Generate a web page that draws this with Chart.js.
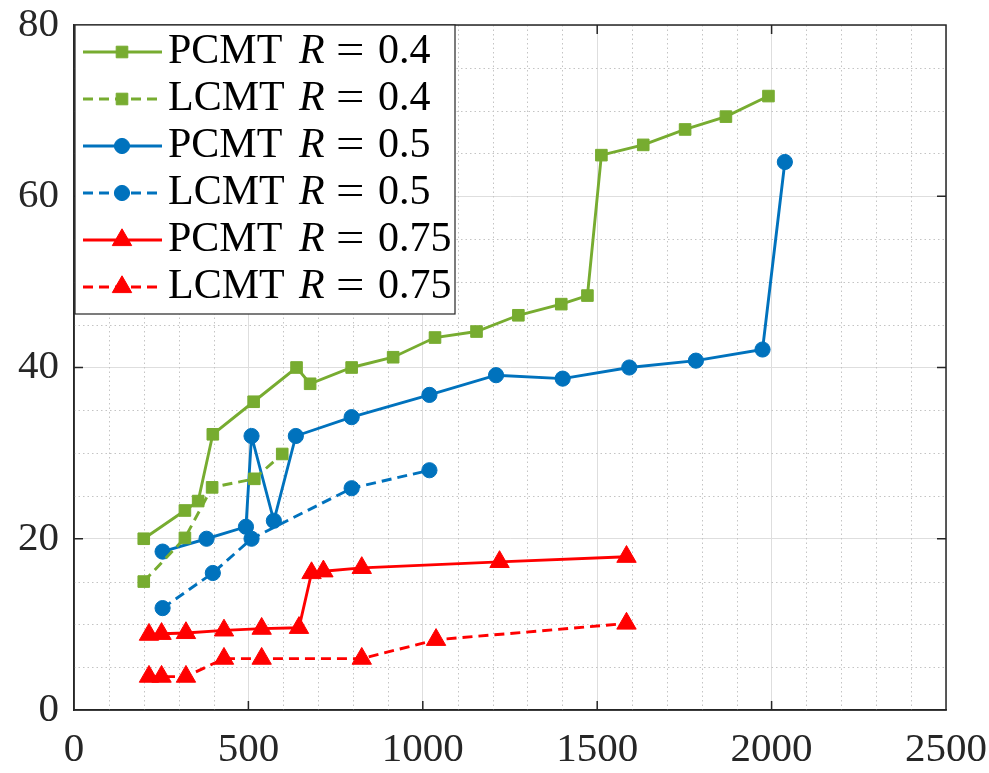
<!DOCTYPE html>
<html>
<head>
<meta charset="utf-8">
<title>PCMT / LCMT</title>
<script src="https://cdn.jsdelivr.net/npm/chart.js@4.4.0/dist/chart.umd.min.js"></script>
<style>
  html, body { margin: 0; padding: 0; background: #ffffff; }
  #wrap { width: 989px; height: 773px; position: relative; }
</style>
</head>
<body>
<div id="wrap"><canvas id="chart"></canvas></div>
<script>
// values
var pcmt04X = [200, 318, 356, 398, 515, 638, 677, 796, 915, 1035, 1154, 1274, 1397, 1472, 1512, 1632, 1752, 1869, 1991];
var pcmt04Y = [20.0, 23.3, 24.4, 32.2, 36.0, 40.0, 38.1, 40.0, 41.2, 43.5, 44.2, 46.1, 47.4, 48.4, 64.8, 66.0, 67.8, 69.3, 71.7];
var lcmt04X = [200, 318, 396, 517, 597];
var lcmt04Y = [15.0, 20.1, 26.0, 27.0, 29.9];

var pcmt05X = [254, 380, 493, 509, 573, 636, 796, 1019, 1210, 1401, 1592, 1783, 1974, 2038];
var pcmt05Y = [18.5, 20.0, 21.4, 32.0, 22.1, 32.0, 34.2, 36.8, 39.1, 38.7, 40.0, 40.8, 42.1, 64.0];
var lcmt05X = [254, 398, 509, 796, 1019];
var lcmt05Y = [11.9, 16.0, 20.0, 25.9, 28.0];

var pcmt075X = [215, 251, 321, 430, 538, 645, 681, 715, 825, 1220, 1584];
var pcmt075Y = [8.8, 8.9, 9.0, 9.3, 9.5, 9.6, 16.0, 16.2, 16.6, 17.3, 17.9];
var lcmt075X = [215, 251, 321, 430, 538, 825, 1038, 1584];
var lcmt075Y = [3.9, 3.9, 3.9, 6.0, 6.0, 6.0, 8.2, 10.1];

var xTicks = [0, 500, 1000, 1500, 2000, 2500];
var yTicks = [0, 20, 40, 60, 80];
var xMinorStep = 100;
var yMinorStep = 5;

var seriesNames = ['PCMT', 'LCMT', 'PCMT', 'LCMT', 'PCMT', 'LCMT'];
var seriesR = ['0.4', '0.4', '0.5', '0.5', '0.75', '0.75'];

var GREEN = '#77ac30';
var BLUE = '#0072bd';
var RED = '#ff0000';
var AXIS = '#262626';
var FONT = '"Liberation Serif", "Times New Roman", serif';

function pts(xs, ys) {
  var out = [];
  for (var i = 0; i < xs.length; i++) out.push({ x: xs[i], y: ys[i] });
  return out;
}

function series(i, xs, ys, color, dashed, style, r) {
  return {
    label: seriesNames[i] + ' R = ' + seriesR[i],
    data: pts(xs, ys),
    borderColor: color,
    backgroundColor: color,
    borderWidth: 2.9,
    borderDash: dashed ? [10, 6] : [],
    pointStyle: style,
    pointRadius: r,
    pointHoverRadius: r,
    pointBackgroundColor: color,
    pointBorderColor: color,
    pointBorderWidth: 1,
    tension: 0,
    fill: false
  };
}

var datasets = [
  series(0, pcmt04X, pcmt04Y, GREEN, false, 'rect', 8.2),
  series(1, lcmt04X, lcmt04Y, GREEN, true, 'rect', 8.2),
  series(2, pcmt05X, pcmt05Y, BLUE, false, 'circle', 7.6),
  series(3, lcmt05X, lcmt05Y, BLUE, true, 'circle', 7.6),
  series(4, pcmt075X, pcmt075Y, RED, false, 'triangle', 11.2),
  series(5, lcmt075X, lcmt075Y, RED, true, 'triangle', 11.2)
];

var xStep = xTicks[1] - xTicks[0];
var yStep = yTicks[1] - yTicks[0];

function drawMarker(ctx, style, r, x, y) {
  ctx.beginPath();
  if (style === 'rect') {
    var s = r * Math.SQRT1_2;
    ctx.rect(x - s, y - s, 2 * s, 2 * s);
  } else if (style === 'triangle') {
    var w = r * Math.sin(Math.PI * 2 / 3);
    ctx.moveTo(x, y - r);
    ctx.lineTo(x + w, y + r / 2);
    ctx.lineTo(x - w, y + r / 2);
    ctx.closePath();
  } else {
    ctx.arc(x, y, r, 0, Math.PI * 2);
  }
  ctx.fill();
  ctx.stroke();
}

// dotted minor grid, MATLAB style
var minorGrid = {
  id: 'minorGrid',
  beforeDatasetsDraw: function(chart) {
    var ctx = chart.ctx, ca = chart.chartArea;
    var xs = chart.scales.x, ys = chart.scales.y;
    var v, p;
    ctx.save();
    ctx.strokeStyle = '#c4c4c4';
    ctx.lineWidth = 1;
    ctx.setLineDash([1.5, 3]);
    for (v = xs.min + xMinorStep; v < xs.max; v += xMinorStep) {
      if (v % xStep === 0) continue;
      p = Math.round(xs.getPixelForValue(v)) + 0.5;
      ctx.beginPath(); ctx.moveTo(p, ca.top); ctx.lineTo(p, ca.bottom); ctx.stroke();
    }
    for (v = ys.min + yMinorStep; v < ys.max; v += yMinorStep) {
      if (v % yStep === 0) continue;
      p = Math.round(ys.getPixelForValue(v)) + 0.5;
      ctx.beginPath(); ctx.moveTo(ca.left, p); ctx.lineTo(ca.right, p); ctx.stroke();
    }
    ctx.restore();
  }
};

// box on all sides with inward ticks
var boxTicks = {
  id: 'boxTicks',
  afterDatasetsDraw: function(chart) {
    var ctx = chart.ctx, ca = chart.chartArea;
    var xs = chart.scales.x, ys = chart.scales.y;
    var len = 9, i, p;
    ctx.save();
    ctx.strokeStyle = AXIS;
    ctx.lineWidth = 1.5;
    ctx.setLineDash([]);
    ctx.strokeRect(ca.left, ca.top, ca.right - ca.left, ca.bottom - ca.top);
    ctx.beginPath();
    for (i = 1; i < xTicks.length - 1; i++) {
      p = xs.getPixelForValue(xTicks[i]);
      ctx.moveTo(p, ca.bottom); ctx.lineTo(p, ca.bottom - len);
      ctx.moveTo(p, ca.top); ctx.lineTo(p, ca.top + len);
    }
    for (i = 1; i < yTicks.length - 1; i++) {
      p = ys.getPixelForValue(yTicks[i]);
      ctx.moveTo(ca.left, p); ctx.lineTo(ca.left + len, p);
      ctx.moveTo(ca.right, p); ctx.lineTo(ca.right - len, p);
    }
    ctx.stroke();
    ctx.restore();
  }
};

// legend box in the upper left corner of the axes
var boxLegend = {
  id: 'boxLegend',
  afterDraw: function(chart) {
    var ctx = chart.ctx, ca = chart.chartArea;
    var lx = ca.left + 1, ly = ca.top, lw = 380, lh = 289;
    ctx.save();
    ctx.fillStyle = '#ffffff';
    ctx.fillRect(lx, ly, lw, lh);
    ctx.strokeStyle = AXIS;
    ctx.lineWidth = 1.2;
    ctx.strokeRect(lx, ly, lw, lh);

    chart.data.datasets.forEach(function(ds, i) {
      var yy = ly + 27 + i * 47;
      ctx.save();
      ctx.strokeStyle = ds.borderColor;
      ctx.lineWidth = ds.borderWidth;
      ctx.setLineDash(ds.borderDash);
      ctx.beginPath();
      ctx.moveTo(lx + 8, yy);
      ctx.lineTo(lx + 87, yy);
      ctx.stroke();
      ctx.setLineDash([]);
      ctx.fillStyle = ds.pointBackgroundColor;
      ctx.lineWidth = ds.pointBorderWidth;
      drawMarker(ctx, ds.pointStyle, ds.pointRadius, lx + 47, yy);
      ctx.restore();

      ctx.fillStyle = '#000000';
      ctx.textBaseline = 'alphabetic';
      ctx.textAlign = 'left';
      ctx.font = '42px ' + FONT;
      ctx.fillText(seriesNames[i], lx + 93, yy + 11);
      ctx.font = 'italic 42px ' + FONT;
      ctx.fillText('R', lx + 224, yy + 11);
      ctx.font = '42px ' + FONT;
      ctx.save();
      ctx.translate(lx + 261, 0);
      ctx.scale(1.2, 1);
      ctx.fillText('=', 0, yy + 11);
      ctx.restore();
      ctx.fillText(seriesR[i], lx + 303, yy + 11);
    });
    ctx.restore();
  }
};

new Chart(document.getElementById('chart'), {
  type: 'line',
  data: { datasets: datasets },
  plugins: [minorGrid, boxTicks, boxLegend],
  options: {
    responsive: true,
    maintainAspectRatio: false,
    animation: false,
    layout: { padding: { left: 0, top: 25, right: 43, bottom: 0 } },
    plugins: {
      legend: { display: false },
      tooltip: { enabled: false }
    },
    scales: {
      x: {
        type: 'linear',
        min: xTicks[0],
        max: xTicks[xTicks.length - 1],
        afterBuildTicks: function(scale) {
          scale.ticks = xTicks.map(function(v) { return { value: v }; });
        },
        afterFit: function(scale) {
          scale.height = 63;
          scale.paddingLeft = 0;
          scale.paddingRight = 0;
        },
        grid: { color: '#dedede', lineWidth: 1, drawTicks: false },
        border: { display: true, color: AXIS, width: 1.5 },
        ticks: {
          color: AXIS,
          padding: 16,
          maxRotation: 0,
          autoSkip: false,
          font: { family: FONT, size: 41 },
          callback: function(v) { return String(v); }
        }
      },
      y: {
        type: 'linear',
        min: yTicks[0],
        max: yTicks[yTicks.length - 1],
        afterBuildTicks: function(scale) {
          scale.ticks = yTicks.map(function(v) { return { value: v }; });
        },
        afterFit: function(scale) {
          scale.width = 74;
          scale.paddingTop = 0;
          scale.paddingBottom = 0;
        },
        grid: { color: '#dedede', lineWidth: 1, drawTicks: false },
        border: { display: true, color: AXIS, width: 1.5 },
        ticks: {
          color: AXIS,
          padding: 15,
          font: { family: FONT, size: 41 },
          callback: function(v) { return String(v); }
        }
      }
    }
  }
});
</script>
</body>
</html>
